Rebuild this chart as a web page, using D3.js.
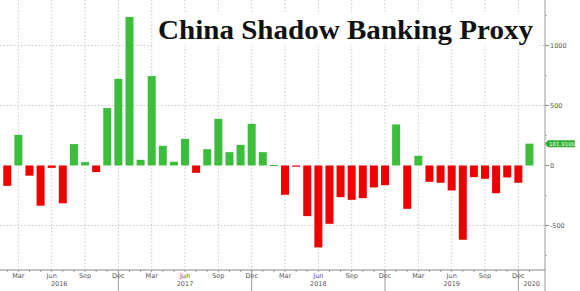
<!DOCTYPE html>
<html><head><meta charset="utf-8">
<script src="https://cdn.jsdelivr.net/npm/d3@7"></script>
<style>body{margin:0;background:#fff}svg{display:block}</style>
</head><body><svg id="c" width="580" height="291"></svg>
<script>
const months = ["2016-02","2016-03","2016-04","2016-05","2016-06","2016-07","2016-08","2016-09","2016-10","2016-11","2016-12",
"2017-01","2017-02","2017-03","2017-04","2017-05","2017-06","2017-07","2017-08","2017-09","2017-10","2017-11","2017-12",
"2018-01","2018-02","2018-03","2018-04","2018-05","2018-06","2018-07","2018-08","2018-09","2018-10","2018-11","2018-12",
"2019-01","2019-02","2019-03","2019-04","2019-05","2019-06","2019-07","2019-08","2019-09","2019-10","2019-11","2019-12",
"2020-01"];
const values = [-170,255,-85,-335,-20,-315,178,28,-55,478,722,
1238,47,745,164,31,222,-61,136,389,111,172,347,
111,4,-244,-10,-422,-683,-486,-264,-286,-272,-183,-164,
342,-361,81,-136,-144,-208,-619,-97,-111,-231,-100,-144,
181.91];
const yTicks = [-500,0,500,1000];
const yMinor = [-750,-250,250,750,1250];
const monthNames = {"03":"Mar","06":"Jun","09":"Sep","12":"Dec"};
const years = ["2016","2017","2018","2019","2020"];
const title = "China Shadow Banking Proxy";
const lastLabel = "181.9100";

const svg = d3.select("#c");
const axisX = 545, baseY = 270;
const x = d3.scaleBand().domain(months).range([1.7, 535]).paddingInner(0.28).paddingOuter(0.14);
const y = d3.scaleLinear().domain([-871, 1379]).range([baseY, 0]);
const cx = m => x(m) + x.bandwidth()/2;
const quarterMonths = months.filter(m => monthNames[m.slice(5)]);
const decMonths = months.filter(m => m.slice(5) === "12");

// vertical gridlines
svg.append("g").selectAll("line").data(quarterMonths).join("line")
  .attr("x1", cx).attr("x2", cx).attr("y1", 0).attr("y2", baseY)
  .attr("stroke", "#c8c8c8").attr("stroke-width", 1).attr("stroke-dasharray", "1.5,2");
// horizontal gridlines
svg.append("g").selectAll("line").data(yTicks.filter(v => v !== 0)).join("line")
  .attr("x1", 0).attr("x2", axisX).attr("y1", d => y(d)).attr("y2", d => y(d))
  .attr("stroke", "#c8c8c8").attr("stroke-width", 1).attr("stroke-dasharray", "1.5,2");

// bars
svg.append("g").selectAll("rect").data(months).join("rect")
  .attr("x", m => x(m)).attr("width", x.bandwidth())
  .attr("y", (m,i) => y(Math.max(0, values[i])))
  .attr("height", (m,i) => Math.max(1, Math.abs(y(values[i]) - y(0))))
  .attr("fill", (m,i) => values[i] >= 0 ? "#3cbe3c" : "#ee0000");

// title
const tg = svg.append("g");
tg.append("rect").attr("x", 154).attr("y", 14).attr("width", 384).attr("height", 32).attr("fill", "#fff");
tg.append("text").attr("x", 158).attr("y", 38.5).text(title)
  .attr("font-family", "Liberation Serif, serif").attr("font-weight", "bold").attr("font-size", 27)
  .attr("textLength", 375).attr("lengthAdjust", "spacingAndGlyphs").attr("fill", "#111");

// right axis
svg.append("line").attr("x1", axisX).attr("x2", axisX).attr("y1", 0).attr("y2", 291).attr("stroke", "#999");
svg.append("g").selectAll("line").data(yTicks).join("line")
  .attr("x1", axisX).attr("x2", axisX + 4).attr("y1", d => y(d)).attr("y2", d => y(d)).attr("stroke", "#888");
svg.append("g").selectAll("line").data(yMinor).join("line")
  .attr("x1", axisX).attr("x2", axisX + 2).attr("y1", d => y(d)).attr("y2", d => y(d)).attr("stroke", "#aaa");
svg.append("g").selectAll("text").data(yTicks).join("text")
  .attr("x", axisX + 5).attr("y", d => y(d) + 2.5).text(d => d < 0 ? "-" + Math.abs(d) : d)
  .attr("font-family", "DejaVu Sans, sans-serif").attr("font-size", 6.5).attr("fill", "#555");

// last value tag
const lv = values[values.length - 1];
const ly = y(lv);
svg.append("path").attr("d", `M${axisX},${ly} L${axisX+3},${ly-3.5} L${575},${ly-3.5} L${575},${ly+3.5} L${axisX+3},${ly+3.5} Z`)
  .attr("fill", "#2fae2f");
svg.append("text").attr("x", axisX + 4).attr("y", ly + 2.2).text(lastLabel)
  .attr("font-family", "DejaVu Sans, sans-serif").attr("font-size", 5.5).attr("fill", "#fff");

// bottom axis
svg.append("line").attr("x1", 0).attr("x2", axisX).attr("y1", baseY).attr("y2", baseY).attr("stroke", "#888");
svg.append("g").selectAll("line").data(months).join("line")
  .attr("x1", cx).attr("x2", cx).attr("y1", baseY).attr("y2", baseY + 2).attr("stroke", "#999");
svg.append("g").selectAll("line").data(decMonths).join("line")
  .attr("x1", cx).attr("x2", cx).attr("y1", baseY).attr("y2", 291).attr("stroke", "#999");
svg.append("g").selectAll("text").data(quarterMonths).join("text")
  .attr("x", cx).attr("y", 277.5).attr("text-anchor", "middle").text(m => monthNames[m.slice(5)])
  .attr("font-family", "DejaVu Sans, sans-serif").attr("font-size", 6.5).attr("fill", "#555");
// year labels centred in year spans (span ends at Dec)
const bounds = [0, ...decMonths.map(cx), axisX];
svg.append("g").selectAll("text").data(years).join("text")
  .attr("x", (d,i) => (bounds[i] + bounds[i+1]) / 2).attr("y", 286)
  .attr("text-anchor", "middle").text(d => d)
  .attr("font-family", "DejaVu Sans, sans-serif").attr("font-size", 6.5).attr("fill", "#555");
</script></body></html>
